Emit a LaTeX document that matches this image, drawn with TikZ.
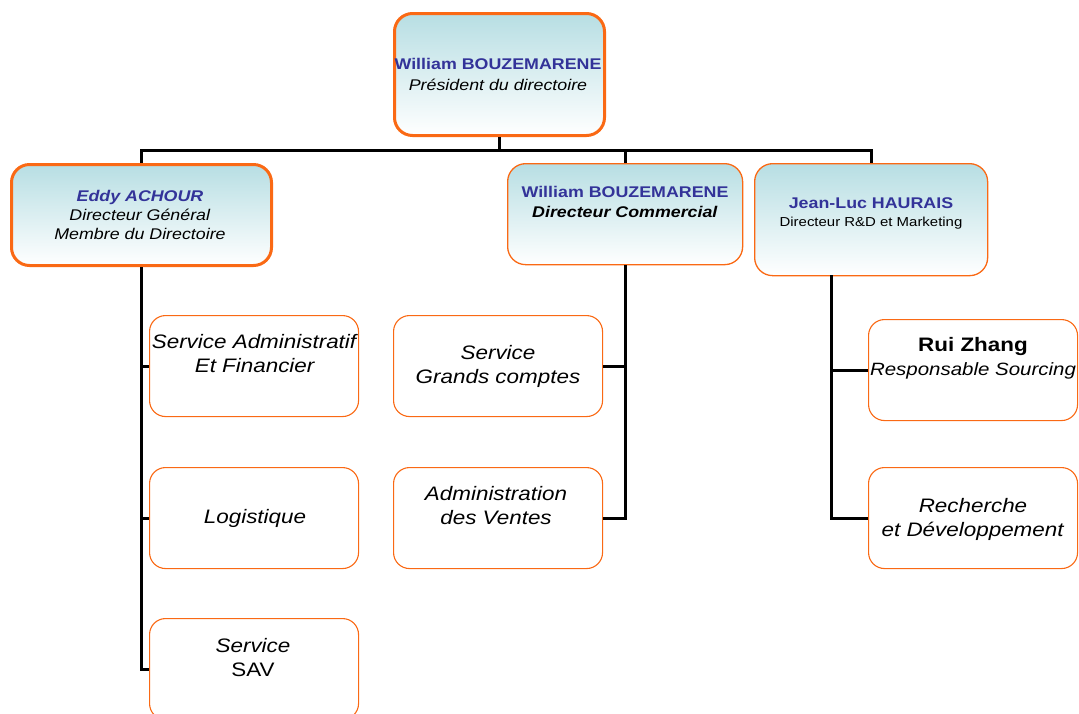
\documentclass[tikz,border=0pt]{standalone}
\usepackage{fontspec}
\setmainfont{Liberation Sans}[FakeStretch=1.15]
\usetikzlibrary{calc}
\definecolor{borange}{RGB}{250,105,20}
\definecolor{nblue}{RGB}{51,51,153}
\definecolor{teal0}{RGB}{183,222,227}
\newcommand{\fsz}[2]{\fontsize{#1}{#2}\selectfont}
\tikzset{
  headbox/.style={draw=borange, rounded corners=18pt, top color=teal0, middle color=teal0!55!white, bottom color=white, inner sep=0pt, anchor=north west},
  thick orange/.style={line width=3pt},
  thin orange/.style={line width=1.3pt},
  childbox/.style={draw=borange, line width=1.1pt, fill=white, rounded corners=16pt, inner sep=0pt, anchor=north west, minimum width=209pt, minimum height=101pt},
  txt/.style={align=center, inner sep=0pt},
  headtxt/.style={txt, font=\fsz{15.5}{20}},
  childtxt/.style={txt, font=\fsz{19.5}{24}},
  conn/.style={line width=3pt, draw=black},
}
\begin{document}
\begin{tikzpicture}[x=1pt,y=-1pt]
\useasboundingbox (0,0) rectangle (1079,713);
% head boxes
\node[headbox, thick orange, minimum width=210pt, minimum height=122pt] (top) at (393,12) {};
\node[headbox, thick orange, minimum width=260pt, minimum height=101pt] (eddy) at (10,163) {};
\node[headbox, thin orange, minimum width=235pt, minimum height=101pt] (com) at (507,163) {};
\node[headbox, thin orange, minimum width=233pt, minimum height=112pt] (jl) at (754,163) {};
% child boxes
\node[childbox] (saf) at (149,315) {};
\node[childbox] (log) at (149,467) {};
\node[childbox] (sav) at (149,618) {};
\node[childbox] (gc) at (393,315) {};
\node[childbox] (adv) at (393,467) {};
\node[childbox] (rz) at (868,319) {};
\node[childbox] (rd) at (868,467) {};
% texts
\node[headtxt, font=\fsz{15.5}{21}] (ttop) at (498,74) {\textcolor{nblue}{\textbf{William BOUZEMARENE}}\\\textit{Président du directoire}};
\node[headtxt, font=\fsz{15.5}{19}] (teddy) at (140,215) {\textcolor{nblue}{\textbf{\textit{Eddy ACHOUR}}}\\\textit{Directeur Général}\\\textit{Membre du Directoire}};
\node[headtxt] (tcom) at (625,202) {\textcolor{nblue}{\textbf{William BOUZEMARENE}}\\\textbf{\textit{Directeur Commercial}}};
\node[txt, font=\fsz{13}{18}] (tjl) at (871,213) {\fsz{15.5}{18}\textcolor{nblue}{\textbf{Jean-Luc HAURAIS}}\\Directeur R\&D et Marketing};
\node[childtxt] (tsaf) at (255,354) {\textit{Service Administratif}\\\textit{Et Financier}};
\node[childtxt] (tlog) at (255,518) {\textit{Logistique}};
\node[childtxt] (tsav) at (253,658) {\textit{Service}\\SAV};
\node[childtxt] (tgc) at (498,366) {\textit{Service}\\\textit{Grands comptes}};
\node[childtxt] (tadv) at (496,506) {\textit{Administration}\\\textit{des Ventes}};
\node[childtxt] (trz) at (973,358) {\textbf{Rui Zhang}\\\fsz{17.8}{24}\textit{Responsable Sourcing}};
\node[childtxt] (trd) at (973,519) {\textit{Recherche}\\\textit{et Développement}};
% connectors
\coordinate (bus) at (0,150.5);
\coordinate (jlv) at (831,275);
\draw[conn] (top.south) -- (top.south |- bus);
\draw[conn] (eddy.north) -- (eddy.north |- bus) -- (jl.north |- bus) -- (jl.north);
\draw[conn] (com.north |- bus) -- (com.north);
\draw[conn] (eddy.south) |- (sav.west);
\draw[conn] (eddy.south |- saf.west) -- (saf.west);
\draw[conn] (eddy.south |- log.west) -- (log.west);
\draw[conn] (com.south) |- (adv.east);
\draw[conn] (com.south |- gc.east) -- (gc.east);
\draw[conn] (jlv) |- (rd.west);
\draw[conn] (jlv |- rz.west) -- (rz.west);
\end{tikzpicture}
\end{document}
